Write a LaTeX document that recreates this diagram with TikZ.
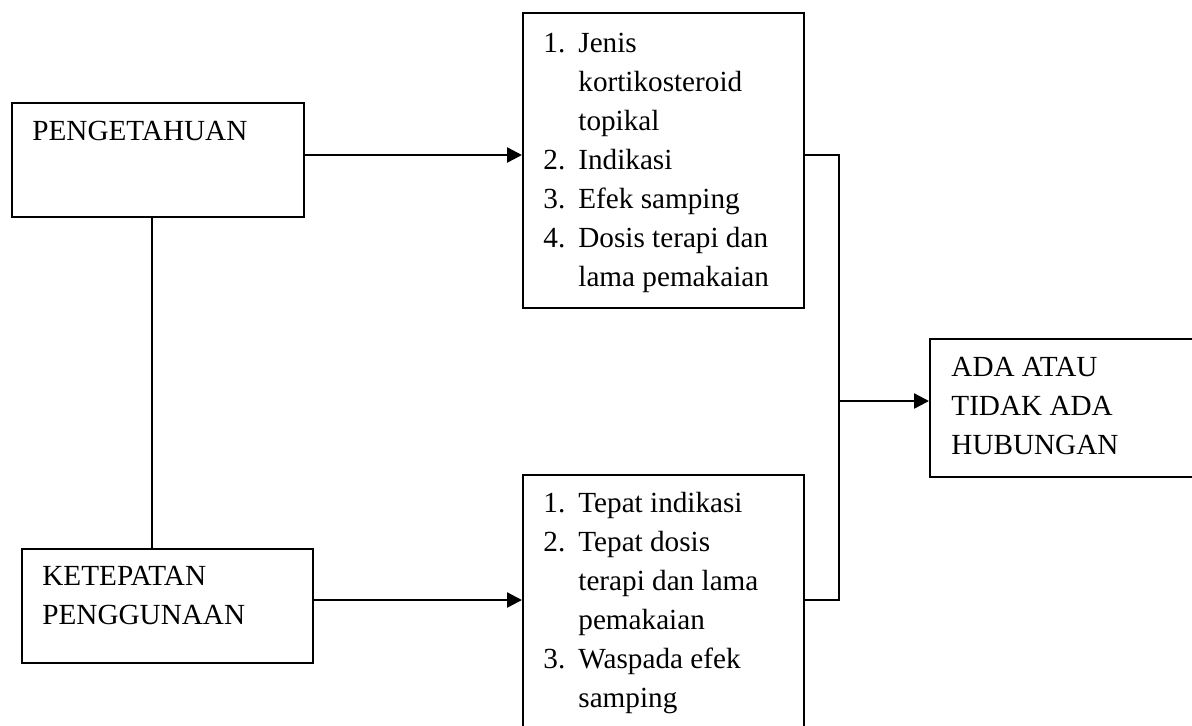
\documentclass[tikz,border=0pt]{standalone}
\usepackage{fontspec}
\setmainfont{Liberation Serif}
\usetikzlibrary{arrows.meta}
\def \pen {PENGETAHUAN}
\newcommand{\lines}[1]{\begin{tabular}[t]{@{}l@{}}#1\end{tabular}}
\newcommand{\items}[1]{\begin{tabular}[t]{@{}p{17.5pt}@{}l@{}}#1\end{tabular}}

\begin{document}
\begin{tikzpicture}[x=0.5pt,y=-0.5pt,
    box/.style={draw,line width=1pt,inner sep=0pt,anchor=north west},
    txt/.style={inner sep=0pt,anchor=base west,
      font=\fontsize{14.6}{19.5}\selectfont},
    arr/.style={line width=1.2pt,-{Triangle[length=7.5pt,width=7.5pt]}},
    link/.style={line width=1pt}]
  \useasboundingbox (0,0) rectangle (1192,725);

  % boxes
  \node[box,minimum width=146pt,minimum height=57pt] (P) at (11,102) {};
  \node[box,minimum width=145.5pt,minimum height=57pt] (K) at (21,548) {};
  \node[box,minimum width=140.5pt,minimum height=147.5pt] (L1) at (522,12) {};
  \node[box,minimum width=140.5pt,minimum height=138pt] (L2) at (522,474) {};
  \node[box,minimum width=150pt,minimum height=69pt] (H) at (929,338) {};

  % texts
  \node[txt] (Pt) at (32,140) {\pen};
  \node[txt] (Kt) at (42,585) {\lines{KETEPATAN\\PENGGUNAAN}};
  \node[txt] (Ht) at (951,376) {\lines{ADA ATAU\\TIDAK ADA\\HUBUNGAN}};
  \node[txt] (L1t) at (543,52) {\items{1. & Jenis\\ & kortikosteroid\\
      & topikal\\ 2. & Indikasi\\ 3. & Efek samping\\
      4. & Dosis terapi dan\\ & lama pemakaian}};
  \node[txt] (L2t) at (543,512) {\items{1. & Tepat indikasi\\
      2. & Tepat dosis\\ & terapi dan lama\\ & pemakaian\\
      3. & Waspada efek\\ & samping}};

  % connectors
  \coordinate (y1) at (0,155);
  \coordinate (y2) at (0,600);
  \coordinate (y3) at (0,401);
  \coordinate (xv) at (152,0);
  \coordinate (xj) at (839,0);
  \draw[link] (P.south -| xv) -- (K.north -| xv);
  \draw[arr] (P.east |- y1) -- (L1.west |- y1);
  \draw[arr] (K.east |- y2) -- (L2.west |- y2);
  \draw[link] (L1.east |- y1) -| (xj |- y2) -- (L2.east |- y2);
  \draw[arr] (xj |- y3) -- (H.west |- y3);
\end{tikzpicture}
\end{document}
